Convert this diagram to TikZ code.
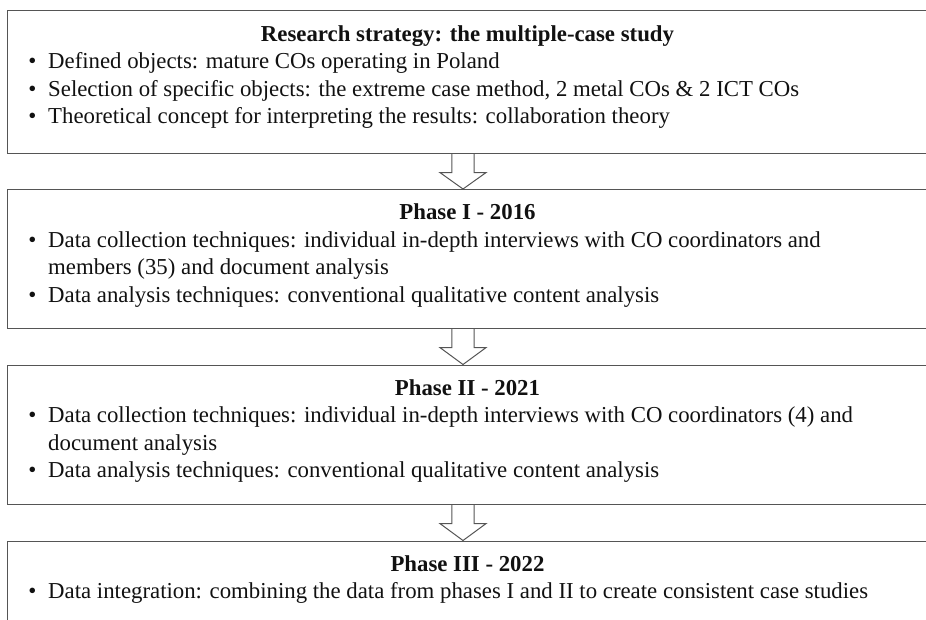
\documentclass[tikz,border=0pt]{standalone}
\usepackage{fontspec}
\setmainfont{Liberation Serif}
\usetikzlibrary{calc}
\definecolor{boxgray}{HTML}{555555}
\definecolor{txtcol}{HTML}{111111}
\begin{document}
\begin{tikzpicture}[x=1pt,y=-1pt,
  box/.style={draw=boxgray, line width=1.4pt, inner sep=0pt, anchor=north west, minimum width=923pt},
  ttl/.style={font=\fontsize{22.8}{27}\selectfont\bfseries, text=txtcol, anchor=base, inner sep=0pt},
  txt/.style={font=\fontsize{22.8}{27}\selectfont, text=txtcol, anchor=base west, inner sep=0pt},
  bul/.style={font=\fontsize{23}{23}\selectfont, text=txtcol, anchor=base, inner sep=0pt},
  arr/.style={draw=boxgray, line width=1pt, line join=miter}]
\useasboundingbox (0,0) rectangle (926,619);
% boxes
\node[box, minimum height=142.5pt] (b1) at (6.7,10) {};
\node[box, minimum height=138.5pt] (b2) at (6.7,189) {};
\node[box, minimum height=139pt] (b3) at (6.7,364.5) {};
\node[box, minimum height=100pt] (b4) at (6.7,540.5) {};
% arrows
\coordinate (ax) at (463,0);
\foreach \u/\l in {b1/b2, b2/b3, b3/b4}{
  \draw[arr] ($(ax |- \u.south)+(-11.2,0)$) -- ($(ax |- \u.south)+(-11.2,18.7)$)
    -- ($(ax |- \u.south)+(-23,18.7)$) -- (ax |- \l.north)
    -- ($(ax |- \u.south)+(23,18.7)$) -- ($(ax |- \u.south)+(11.2,18.7)$)
    -- ($(ax |- \u.south)+(11.2,0)$);
}
% box 1
\node[ttl] (t1) at (467.5,41) {Research strategy: the multiple-case study};
\node[bul] (p11) at (32.5,68.5) {•};
\node[txt] (l11) at (48,68.5) {Defined objects: mature COs operating in Poland};
\node[bul] (p12) at (32.5,96) {•};
\node[txt] (l12) at (48,96) {Selection of specific objects: the extreme case method, 2 metal COs \& 2 ICT COs};
\node[bul] (p13) at (32.5,123.5) {•};
\node[txt] (l13) at (48,123.5) {Theoretical concept for interpreting the results: collaboration theory};
% box 2
\node[ttl] (t2) at (467.5,219.5) {Phase I - 2016};
\node[bul] (p21) at (32.5,247) {•};
\node[txt] (l21) at (48,247) {Data collection techniques: individual in-depth interviews with CO coordinators and};
\node[txt] (l22) at (48,274.5) {members (35) and document analysis};
\node[bul] (p23) at (32.5,302) {•};
\node[txt] (l23) at (48,302) {Data analysis techniques: conventional qualitative content analysis};
% box 3
\node[ttl] (t3) at (467.5,395) {Phase II - 2021};
\node[bul] (p31) at (32.5,422.5) {•};
\node[txt] (l31) at (48,422.5) {Data collection techniques: individual in-depth interviews with CO coordinators (4) and};
\node[txt] (l32) at (48,450) {document analysis};
\node[bul] (p33) at (32.5,477.5) {•};
\node[txt] (l33) at (48,477.5) {Data analysis techniques: conventional qualitative content analysis};
% box 4
\node[ttl] (t4) at (467.5,571) {Phase III - 2022};
\node[bul] (p41) at (32.5,598.5) {•};
\node[txt] (l41) at (48,598.5) {Data integration: combining the data from phases I and II to create consistent case studies};
\end{tikzpicture}
\end{document}
